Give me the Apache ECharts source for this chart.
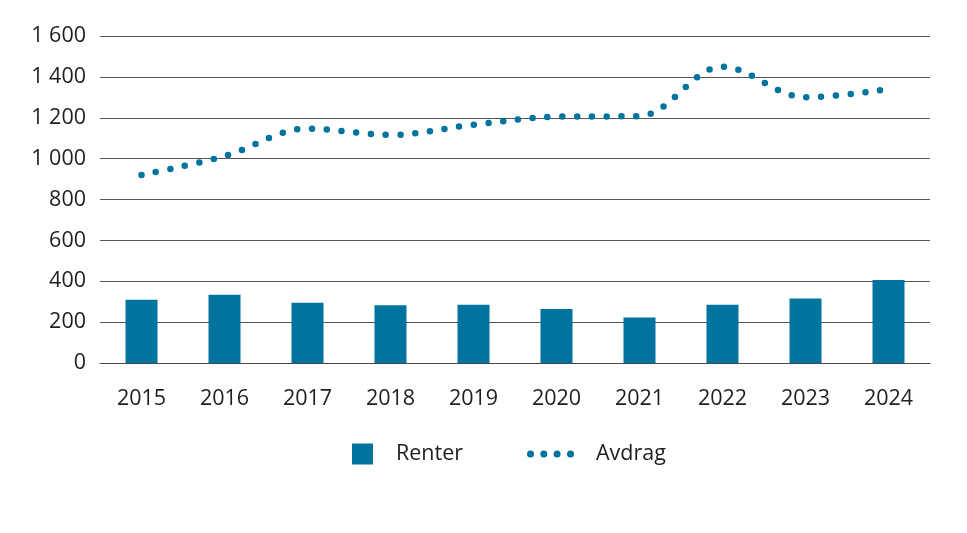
<!DOCTYPE html>
<html>
<head>
<meta charset="utf-8">
<script src="https://cdn.jsdelivr.net/npm/echarts@6/dist/echarts.min.js"></script>
<style>html,body{margin:0;padding:0;background:#fff}#c{width:967px;height:533px}</style>
</head>
<body>
<div id="c"></div>
<script>
const years = ['2015','2016','2017','2018','2019','2020','2021','2022','2023','2024'];
const renter = [310, 334, 295, 282, 285, 264, 223, 285, 315, 406];
const avdrag = [920, 1012, 1147, 1116, 1166, 1205, 1208, 1450, 1300, 1341];
const yMin = 0, yMax = 1600, yStep = 200;

const teal = '#00739f';
const txt = '#1e1e1e';
const font = 'Open Sans';
const fs = 21.5;
const dotsIcon = 'path://M0,3.5a3.5,3.5 0 1,0 7,0a3.5,3.5 0 1,0 -7,0Z M13.3,3.5a3.5,3.5 0 1,0 7,0a3.5,3.5 0 1,0 -7,0Z M26.6,3.5a3.5,3.5 0 1,0 7,0a3.5,3.5 0 1,0 -7,0Z M40,3.5a3.5,3.5 0 1,0 7,0a3.5,3.5 0 1,0 -7,0Z';

const chart = echarts.init(document.getElementById('c'), null, {renderer: 'canvas'});
chart.setOption({
  animation: false,
  grid: {left: 100, right: 37, top: 36, bottom: 170, containLabel: false},
  xAxis: {
    type: 'category', data: years,
    axisLine: {show: true, lineStyle: {color: '#4a4a4a', width: 1}},
    axisTick: {show: false},
    axisLabel: {color: txt, fontFamily: font, fontSize: fs, margin: 25}
  },
  yAxis: {
    type: 'value', min: yMin, max: yMax, interval: yStep,
    axisLine: {show: false}, axisTick: {show: false},
    splitLine: {show: true, lineStyle: {color: '#555', width: 1}},
    axisLabel: {
      color: txt, fontFamily: font, fontSize: fs, margin: 14,
      formatter: v => String(v).replace(/\B(?=(\d{3})+(?!\d))/g, ' ')
    }
  },
  legend: [
    {
      left: 352, top: 443, padding: 0, itemWidth: 21, itemHeight: 21,
      data: [{name: 'Renter', icon: 'rect'}],
      textStyle: {color: txt, fontFamily: font, fontSize: fs, lineHeight: 21, padding: [0, 0, 0, 18]}
    },
    {
      left: 527, top: 443, padding: 0, itemWidth: 47, itemHeight: 7,
      data: [{name: 'Avdrag', icon: dotsIcon, itemStyle: {color: teal, borderWidth: 0}}],
      itemStyle: {borderWidth: 0},
      textStyle: {color: txt, fontFamily: font, fontSize: fs, lineHeight: 21, padding: [0, 0, 0, 17]}
    }
  ],
  series: [
    {
      name: 'Renter', type: 'bar', data: renter, barWidth: 32,
      itemStyle: {color: teal}
    },
    {
      name: 'Avdrag', type: 'line', data: avdrag, smooth: 0.35,
      symbol: 'none', showSymbol: false,
      itemStyle: {color: teal},
      lineStyle: {color: teal, width: 6.5, type: [0, 14.8], cap: 'round'}
    }
  ]
});
</script>
</body>
</html>
